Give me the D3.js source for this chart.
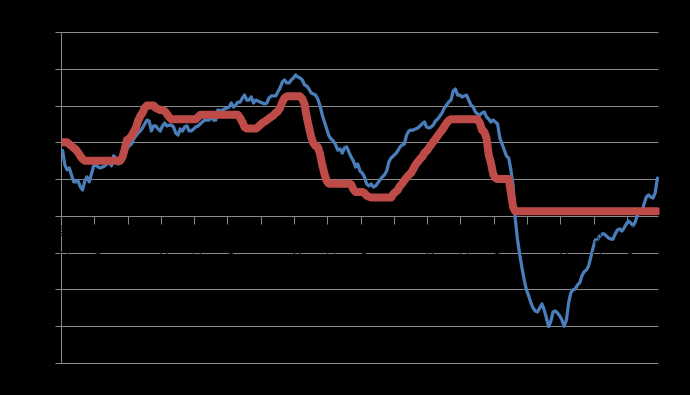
<!DOCTYPE html>
<html>
<head>
<meta charset="utf-8">
<script src="https://cdn.jsdelivr.net/npm/d3@7"></script>
<style>
body { margin: 0; background: #000; }
</style>
</head>
<body>
<svg id="chart" width="690" height="395"></svg>
<script>
// monthly, Jan 1992 .. May 2014
const firstMonth = new Date(1992, 0, 1)
const lastMonth = new Date(2014, 4, 1)
const months = d3.timeMonth.range(firstMonth, d3.timeMonth.offset(lastMonth, 1))

// blue: rule-implied rate (%)
const ruleRate = [
  3.55, 2.77, 2.50, 2.61, 2.22, 1.85, 1.85, 1.90, 1.57, 1.41, 1.90,
  2.12, 1.85, 2.28, 2.72, 2.77, 2.66, 2.61, 2.66, 2.72, 2.82, 2.99, 2.72,
  3.26, 3.15, 2.82, 2.88, 3.04, 3.42, 3.69, 3.80, 3.91, 4.18, 4.35, 4.51,
  4.62, 4.78, 5.00, 5.21, 5.16, 4.62, 4.89, 4.89, 4.73, 4.62, 4.89, 5.05,
  4.89, 4.94, 4.94, 4.83, 4.51, 4.40, 4.73, 4.62, 4.83, 4.89, 4.62, 4.62,
  4.73, 4.83, 4.89, 5.00, 5.11, 5.21, 5.21, 5.21, 5.38, 5.21, 5.21, 5.76,
  5.70, 5.76, 5.81, 5.87, 5.92, 6.14, 5.92, 6.03, 6.19, 6.19, 6.41, 6.57,
  6.30, 6.30, 6.47, 6.14, 6.30, 6.25, 6.19, 6.14, 6.09, 6.14, 6.41, 6.52,
  6.52, 6.52, 6.74, 6.96, 7.28, 7.39, 7.23, 7.23, 7.39, 7.50, 7.66, 7.55,
  7.50, 7.39, 7.12, 7.06, 6.90, 6.68, 6.63, 6.57, 6.36, 5.98, 5.49, 5.11,
  4.73, 4.35, 4.18, 4.07, 3.86, 3.58, 3.64, 3.42, 3.69, 3.75, 3.48, 3.20,
  2.99, 2.66, 2.82, 2.44, 2.33, 2.12, 1.74, 1.63, 1.74, 1.57, 1.63, 1.79,
  1.95, 2.12, 2.22, 2.44, 2.93, 3.15, 3.26, 3.37, 3.53, 3.75, 3.86, 3.91,
  4.40, 4.62, 4.67, 4.67, 4.73, 4.78, 4.89, 5.00, 5.11, 4.83, 4.78, 4.83,
  4.94, 5.16, 5.27, 5.43, 5.60, 5.87, 6.03, 6.19, 6.30, 6.79, 6.90, 6.57,
  6.57, 6.47, 6.52, 6.57, 6.30, 6.03, 5.92, 5.65, 5.54, 5.49, 5.60, 5.65,
  5.38, 5.27, 5.11, 5.21, 5.11, 5.00, 4.24, 3.91, 3.58, 3.26, 3.15, 2.50,
  1.63, -0.22, -1.31, -2.13, -2.83, -3.48, -4.02, -4.35, -4.73, -5.00, -5.17, -5.22,
  -5.00, -4.79, -5.11, -5.55, -6.02, -5.72, -5.22, -5.17, -5.28, -5.44, -5.66, -6.00,
  -5.66, -4.73, -4.18, -4.02, -3.97, -3.75, -3.64, -3.26, -3.04, -2.94, -2.72, -2.24,
  -1.75, -1.31, -1.31, -1.09, -0.98, -0.98, -1.09, -1.20, -1.26, -1.26, -0.98, -0.77,
  -0.71, -0.82, -0.66, -0.44, -0.28, -0.38, -0.55, -0.33, 0.05, 0.32, 0.21, 0.65,
  1.03, 1.14, 1.03, 0.97, 1.25, 2.05
]

// red: policy rate (%)
const policyRate = [
  4.00, 4.00, 4.00, 3.90, 3.80, 3.70, 3.60, 3.45, 3.25, 3.10, 3.00,
  3.00, 3.00, 3.00, 3.00, 3.00, 3.00, 3.00, 3.00, 3.00, 3.00, 3.00, 3.00,
  3.00, 3.00, 3.00, 3.00, 3.20, 3.64, 4.13, 4.20, 4.35, 4.56, 4.78, 5.16,
  5.43, 5.60, 5.87, 6.00, 6.00, 6.00, 6.00, 5.87, 5.81, 5.76, 5.76, 5.70,
  5.54, 5.38, 5.25, 5.25, 5.25, 5.25, 5.25, 5.25, 5.25, 5.25, 5.25, 5.25,
  5.25, 5.25, 5.38, 5.49, 5.50, 5.50, 5.50, 5.50, 5.50, 5.50, 5.50, 5.50,
  5.50, 5.50, 5.50, 5.50, 5.50, 5.50, 5.50, 5.50, 5.50, 5.32, 5.11, 4.83,
  4.75, 4.75, 4.75, 4.75, 4.75, 4.83, 4.94, 5.05, 5.13, 5.21, 5.30, 5.38,
  5.46, 5.60, 5.68, 5.87, 6.19, 6.41, 6.50, 6.50, 6.50, 6.50, 6.50, 6.50,
  6.50, 6.36, 6.09, 5.38, 4.83, 4.29, 3.96, 3.80, 3.75, 3.37, 2.77, 2.28,
  1.90, 1.75, 1.75, 1.75, 1.75, 1.75, 1.75, 1.75, 1.75, 1.75, 1.75, 1.72,
  1.44, 1.30, 1.30, 1.30, 1.30, 1.25, 1.10, 1.04, 1.00, 1.00, 1.00, 1.00,
  1.00, 1.00, 1.00, 1.00, 1.00, 1.00, 1.19, 1.30, 1.41, 1.63, 1.76, 1.93,
  2.09, 2.22, 2.33, 2.55, 2.77, 2.93, 3.09, 3.20, 3.42, 3.53, 3.69, 3.86,
  4.02, 4.18, 4.35, 4.51, 4.67, 4.86, 5.05, 5.19, 5.25, 5.25, 5.25, 5.25,
  5.25, 5.25, 5.25, 5.25, 5.25, 5.25, 5.25, 5.25, 5.25, 5.05, 4.67, 4.56,
  4.24, 3.31, 2.88, 2.28, 2.06, 2.00, 2.00, 2.00, 2.00, 2.00, 2.00, 1.25,
  0.48, 0.25, 0.25, 0.25, 0.25, 0.25, 0.25, 0.25, 0.25, 0.25, 0.25, 0.25,
  0.25, 0.25, 0.25, 0.25, 0.25, 0.25, 0.25, 0.25, 0.25, 0.25, 0.25, 0.25,
  0.25, 0.25, 0.25, 0.25, 0.25, 0.25, 0.25, 0.25, 0.25, 0.25, 0.25, 0.25,
  0.25, 0.25, 0.25, 0.25, 0.25, 0.25, 0.25, 0.25, 0.25, 0.25, 0.25, 0.25,
  0.25, 0.25, 0.25, 0.25, 0.25, 0.25, 0.25, 0.25, 0.25, 0.25, 0.25, 0.25,
  0.25, 0.25, 0.25, 0.25, 0.25, 0.25
]

const yTicks = [-8, -6, -4, -2, 0, 2, 4, 6, 8, 10]
const tickEvery = 15
const fmtMonth = d3.timeFormat("%b-%y")

const svg = d3.select('#chart')
const plotLeft = 61.5, plotRight = 658.5, plotTop = 32, plotBottom = 363
const gridColor = '#8a8a8a'

svg.append('rect').attr('width', 690).attr('height', 395).attr('fill', '#000')

const x = d3.scaleBand().domain(d3.range(months.length)).range([plotLeft, plotRight])
const xc = i => x(i) + x.bandwidth() / 2
const y = d3.scaleLinear().domain([-8, 10]).range([plotBottom, plotTop])

// gridlines (zero line doubles as the category axis)
svg.append('g').selectAll('line')
  .data(yTicks)
  .enter()
  .append('line')
  .attr('x1', plotLeft - 6).attr('x2', plotRight)
  .attr('y1', d => Math.round(y(d)) + 0.5).attr('y2', d => Math.round(y(d)) + 0.5)
  .attr('stroke', gridColor)

// value axis
svg.append('line')
  .attr('x1', plotLeft).attr('x2', plotLeft)
  .attr('y1', plotTop).attr('y2', plotBottom + 0.5)
  .attr('stroke', gridColor)

// labels are black on black in the original
svg.append('g').selectAll('text')
  .data(yTicks)
  .enter()
  .append('text')
  .attr('x', plotLeft - 9).attr('y', d => y(d) + 4)
  .attr('text-anchor', 'end')
  .attr('font-family', 'Liberation Sans, Arial, sans-serif')
  .attr('font-size', 11)
  .attr('fill', '#000')
  .text(d => d)

// category tick marks along zero
const tickIdx = d3.range(0, months.length, tickEvery)
const zeroY = Math.round(y(0)) + 0.5
svg.append('g').selectAll('line')
  .data(tickIdx)
  .enter()
  .append('line')
  .attr('x1', d => Math.round(x(d) - 0.5) + 0.5)
  .attr('x2', d => Math.round(x(d) - 0.5) + 0.5)
  .attr('y1', zeroY).attr('y2', zeroY + 8)
  .attr('stroke', gridColor)

svg.append('clipPath').attr('id', 'plot')
  .append('rect')
  .attr('x', plotLeft).attr('y', plotTop - 10)
  .attr('width', plotRight - plotLeft + 1).attr('height', plotBottom - plotTop + 20)

const lineGen = d3.line()
  .x((d, i) => xc(i))
  .y(d => y(d))

const series = svg.append('g').attr('clip-path', 'url(#plot)')

series.append('path')
  .datum(ruleRate)
  .attr('d', lineGen)
  .attr('fill', 'none')
  .attr('stroke', '#4a7ebb')
  .attr('stroke-width', 3.25)
  .attr('stroke-linejoin', 'round')
  .attr('stroke-linecap', 'round')

series.append('path')
  .datum(policyRate)
  .attr('d', lineGen)
  .attr('fill', 'none')
  .attr('stroke', '#be4b48')
  .attr('stroke-width', 8)
  .attr('stroke-linejoin', 'round')
  .attr('stroke-linecap', 'round')

// category labels (also black)
svg.append('g').selectAll('text')
  .data(tickIdx)
  .enter()
  .append('text')
  .attr('transform', d => `translate(${xc(d) + 3},${zeroY + 9}) rotate(-90)`)
  .attr('text-anchor', 'end')
  .attr('dominant-baseline', 'middle')
  .attr('font-family', 'Liberation Sans, Arial, sans-serif')
  .attr('font-size', 10)
  .attr('fill', '#000')
  .text(d => fmtMonth(months[d]))
</script>
</body>
</html>
